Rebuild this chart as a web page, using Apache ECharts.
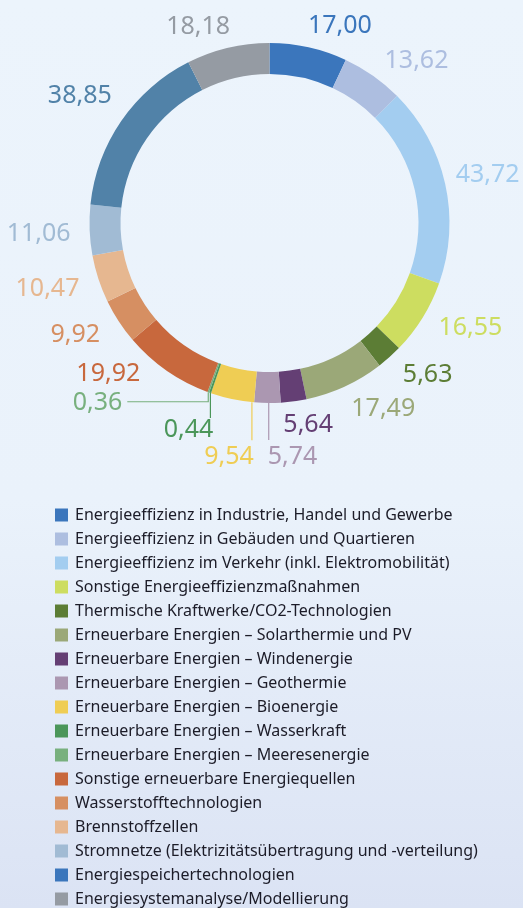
<!DOCTYPE html>
<html>
<head>
<meta charset="utf-8">
<script src="https://cdn.jsdelivr.net/npm/echarts@6/dist/echarts.min.js"></script>
<style>
  html, body { margin: 0; padding: 0; }
  #chart { width: 523px; height: 908px; }
</style>
</head>
<body>
<div id="chart"></div>
<script>
// Funding areas, in drawing order (clockwise from 12 o'clock)
const categories = [
  'Energieeffizienz in Industrie, Handel und Gewerbe',
  'Energieeffizienz in Gebäuden und Quartieren',
  'Energieeffizienz im Verkehr (inkl. Elektromobilität)',
  'Sonstige Energieeffizienzmaßnahmen',
  'Thermische Kraftwerke/CO2-Technologien',
  'Erneuerbare Energien – Solarthermie und PV',
  'Erneuerbare Energien – Windenergie',
  'Erneuerbare Energien – Geothermie',
  'Erneuerbare Energien – Bioenergie',
  'Erneuerbare Energien – Wasserkraft',
  'Erneuerbare Energien – Meeresenergie',
  'Sonstige erneuerbare Energiequellen',
  'Wasserstofftechnologien',
  'Brennstoffzellen',
  'Stromnetze (Elektrizitätsübertragung und -verteilung)',
  'Energiespeichertechnologien',
  'Energiesystemanalyse/Modellierung'
];

const values = [17.00, 13.62, 43.72, 16.55, 5.63, 17.49, 5.64, 5.74, 9.54, 0.44, 0.36, 19.92, 9.92, 10.47, 11.06, 38.85, 18.18];

const sliceColors = [
  '#3b76bc', '#adbee0', '#a3cdf0', '#cddd60', '#5c7d35', '#9ba878',
  '#643f74', '#ab97b1', '#efcd54', '#4b965a', '#78b07e', '#c8683d',
  '#d68f62', '#e6b790', '#a1bbd4', '#5182a8', '#959ba3'
];

const legendColors = sliceColors.slice();
legendColors[15] = '#3b76bc';

// ---- geometry of the ring and its labels ----
const CX = 269.5, CY = 223, R_IN = 149, R_OUT = 180, R_LABEL = 200;
const LABEL_FONT = 25;

const total = values.reduce((a, b) => a + b, 0);
const startCum = [];
(function () { let acc = 0; values.forEach(v => { startCum.push(acc); acc += v; }); })();
const angleOf = (cum) => cum / total * 2 * Math.PI; // radians, clockwise from top

// small hand offsets for the outside labels
const labelNudge = {
  0: [-5, -2], 1: [0, 1], 2: [-9, -4], 3: [-1, -1], 4: [0, 3], 5: [-2, 4],
  6: [-13, 4], 11: [-15, -13], 12: [-2, 2], 13: [0, 4], 14: [1, 3],
  15: [7, -14], 16: [7, -2]
};

// leader lines for the thin slices at the bottom
const leaders = {
  7:  { frac: 0.45, drop: 37, align: 'left',  dx: -1, dy: 17 },
  8:  { frac: 0.05, drop: 38, align: 'right', dx: 2,  dy: 17 },
  9:  { frac: 0.3,  drop: 25, align: 'right', dx: 3,  dy: 12 },
  10: { frac: 0.5,  drop: 9.5, run: -81, align: 'right', dx: -5, dy: 1 }
};

const fmt = (v) => v.toFixed(2).replace('.', ',');

const seriesData = categories.map((name, i) => ({
  name,
  value: values[i],
  itemStyle: { color: sliceColors[i] },
  label: { color: sliceColors[i] },
  labelLine: {
    show: leaders[i] !== undefined,
    lineStyle: { color: sliceColors[i], width: 1.2 }
  }
}));

const legendData = categories.map((name, i) => ({
  name,
  itemStyle: { color: legendColors[i] }
}));

function layoutLabel(params) {
  const i = params.dataIndex;
  const ld = leaders[i];
  if (ld) {
    const a = angleOf(startCum[i] + values[i] * ld.frac);
    const x = CX + R_OUT * Math.sin(a);
    const yRing = CY + Math.sqrt(R_OUT * R_OUT - (x - CX) * (x - CX));
    const yEnd = yRing + ld.drop;
    const pts = [[x, yRing], [x, yEnd]];
    let tx = x, ty = yEnd;
    if (ld.run) {
      pts.push([x + ld.run, yEnd]);
      tx = x + ld.run;
    }
    return {
      x: tx + ld.dx,
      y: ty + ld.dy,
      align: ld.align,
      verticalAlign: 'middle',
      labelLinePoints: pts
    };
  }
  const a = angleOf(startCum[i] + values[i] / 2);
  const n = labelNudge[i] || [0, 0];
  const s = Math.sin(a);
  return {
    x: CX + R_LABEL * s + n[0],
    y: CY - R_LABEL * Math.cos(a) + n[1],
    align: s >= 0 ? 'left' : 'right',
    verticalAlign: 'middle'
  };
}

const chart = echarts.init(document.getElementById('chart'), null, { renderer: 'canvas' });

chart.setOption({
  animation: false,
  backgroundColor: {
    type: 'linear', x: 0, y: 0, x2: 0, y2: 1,
    colorStops: [
      { offset: 0, color: '#ecf4fc' },
      { offset: 0.55, color: '#eaf2fb' },
      { offset: 1, color: '#dbe3f4' }
    ]
  },
  textStyle: { fontFamily: '"Noto Sans", sans-serif' },
  legend: {
    type: 'plain',
    orient: 'vertical',
    left: 50,
    top: 501,
    height: 440,
    icon: 'rect',
    itemWidth: 13,
    itemHeight: 13,
    itemGap: 6,
    selectedMode: false,
    data: legendData,
    textStyle: {
      fontFamily: '"Noto Sans", sans-serif',
      fontSize: 16,
      lineHeight: 18,
      padding: [0, 0, 0, 2],
      color: '#1c1c28'
    }
  },
  series: [{
    type: 'pie',
    center: [CX, CY],
    radius: [R_IN, R_OUT],
    startAngle: 90,
    clockwise: true,
    avoidLabelOverlap: false,
    silent: true,
    emphasis: { disabled: true },
    itemStyle: { borderWidth: 0 },
    label: {
      show: true,
      position: 'outside',
      fontFamily: '"Noto Sans", sans-serif',
      fontSize: LABEL_FONT,
      formatter: (p) => fmt(p.value)
    },
    labelLine: { show: false, length: 10, length2: 10 },
    labelLayout: layoutLabel,
    data: seriesData
  }]
});
</script>
</body>
</html>
